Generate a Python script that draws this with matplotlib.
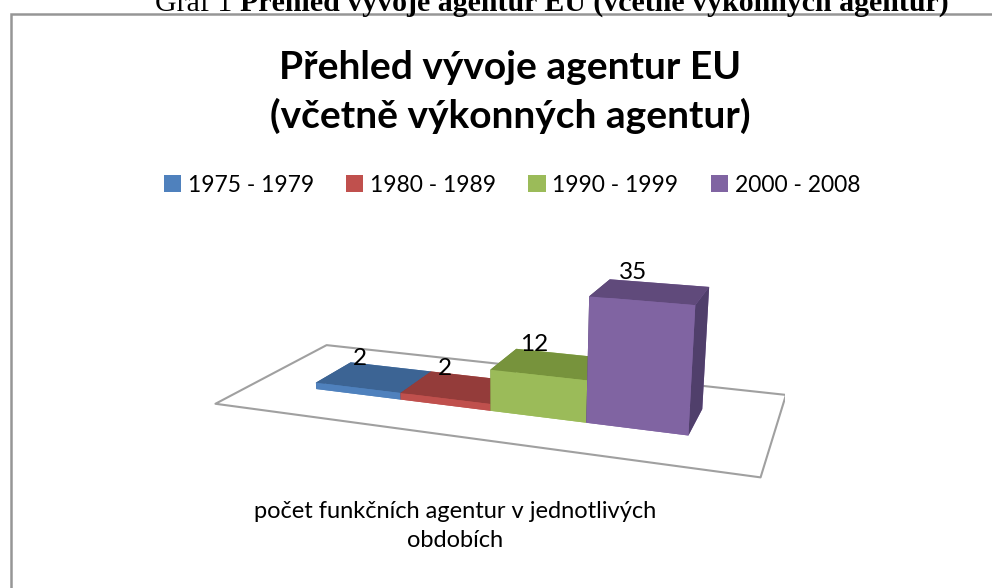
import matplotlib
matplotlib.use('Agg')
import matplotlib.pyplot as plt
import numpy as np
from matplotlib.patches import Patch, Rectangle
from mpl_toolkits.mplot3d.art3d import Poly3DCollection

periods = ['1975 - 1979', '1980 - 1989', '1990 - 1999', '2000 - 2008']
counts = [2, 2, 12, 35]
front_colors = ['#4F81BD', '#C0504D', '#9BBB59', '#8064A2']
top_colors = ['#3C6494', '#943C3A', '#77933C', '#604A7B']
side_colors = ['#385D8A', '#8C3836', '#71893F', '#503F6B']

caption_prefix = 'Graf 1 '
caption_bold = 'Přehled vývoje agentur EU (včetně výkonných agentur)'
title = 'Přehled vývoje agentur EU\n(včetně výkonných agentur)'
xlabel = 'počet funkčních agentur v jednotlivých\nobdobích'

plt.rcParams['font.family'] = ['Lato', 'DejaVu Sans']

W, H = 992, 588
fig = plt.figure(figsize=(W / 100, H / 100), dpi=100)

# outer chart frame (extends beyond the image on right/bottom)
fig.patches.append(Rectangle((10.5 / W, -0.1), 1.2, (1 - 14 / H) + 0.1,
                             transform=fig.transFigure, fill=False,
                             edgecolor='#969696', lw=1.8))

# caption (cropped at top)
serif = ['Liberation Serif', 'DejaVu Serif']
t1 = fig.text(155 / W, 1 - 11 / H, caption_prefix, family=serif, fontsize=21.5,
              va='baseline', ha='left')
fig.canvas.draw()
bb = t1.get_window_extent()
fig.text(bb.x1 / W, 1 - 11 / H, caption_bold, family=serif, fontsize=21.5,
         fontweight='bold', va='baseline', ha='left')

# title
fig.text(510 / W, 1 - 92 / H, title, fontsize=28, fontweight='bold',
         ha='center', va='center', linespacing=1.4)

# legend
handles = [Patch(facecolor=c) for c in front_colors]
fig.legend(handles, periods, loc='center', bbox_to_anchor=(512 / W, 1 - 185 / H),
           ncol=4, frameon=False, fontsize=16.5, handlelength=0.75, handleheight=0.75,
           columnspacing=1.4, handletextpad=0.3)

# x label
fig.text(455 / W, 1 - 526 / H, xlabel, fontsize=17, ha='center', va='center',
         linespacing=1.45)

# 3D bars
ax = fig.add_axes([0.0, 0.408 - 0.49, 1.0, 0.98], projection='3d',
                  proj_type='persp', focal_length=0.33)
ax.computed_zorder = False
ax.view_init(elev=16, azim=-70)
ax.set_axis_off()
n = len(counts)
x0, x1 = -0.75, n + 0.75
floor = Poly3DCollection([[(x0, 0, 0), (x1, 0, 0), (x1, 1, 0), (x0, 1, 0)]],
                         facecolor='white', edgecolor='#a0a0a0', linewidths=1.5)
ax.add_collection3d(floor)
d0, d1 = 0.33, 0.67
for i, v in enumerate(counts):
    cols = [front_colors[i], top_colors[i], front_colors[i], front_colors[i],
            side_colors[i], side_colors[i]]
    ax.bar3d(i, d0, 0, 1, d1 - d0, v, color=cols, shade=False, edgecolor='none')
    ax.text(i + 0.33, (d0 + d1) / 2, v + 2.0, str(v), fontsize=17.5,
            ha='center', va='bottom', zorder=10)
ax.set_xlim(x0, x1)
ax.set_ylim(0, 1)
ax.set_zlim(0, 35)
ax.set_box_aspect((5.5, 2.3, 1.27))

fig.savefig('out.png', dpi=100)
